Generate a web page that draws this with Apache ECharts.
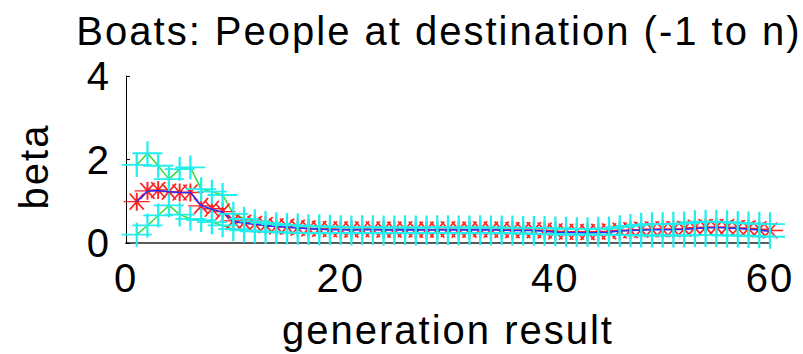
<!DOCTYPE html>
<html>
<head>
<meta charset="utf-8">
<script src="https://cdn.jsdelivr.net/npm/echarts@6/dist/echarts.min.js"></script>
<style>
  html, body { margin: 0; padding: 0; background: #ffffff; }
  #chart { width: 803px; height: 354px; }
  /* slightly looser tracking for all chart text */
  #chart svg text { letter-spacing: 2px; }
</style>
</head>
<body>
<div id="chart"></div>
<script>
// Generation index (x axis)
const generations = [
  1, 2, 3, 4, 5, 6, 7, 8, 9, 10,
  11, 12, 13, 14, 15, 16, 17, 18, 19, 20,
  21, 22, 23, 24, 25, 26, 27, 28, 29, 30,
  31, 32, 33, 34, 35, 36, 37, 38, 39, 40,
  41, 42, 43, 44, 45, 46, 47, 48, 49, 50,
  51, 52, 53, 54, 55, 56, 57, 58, 59, 60
];

// Mean beta per generation (red asterisks)
const meanBeta = [
  0.99, 1.25, 1.27, 1.23, 1.21, 1.21, 0.89, 0.82, 0.75, 0.53,
  0.49, 0.46, 0.43, 0.40, 0.39, 0.37, 0.35, 0.34, 0.33, 0.33,
  0.32, 0.33, 0.33, 0.32, 0.32, 0.33, 0.32, 0.32, 0.32, 0.33,
  0.32, 0.32, 0.33, 0.32, 0.32, 0.31, 0.31, 0.31, 0.30, 0.28,
  0.27, 0.27, 0.26, 0.27, 0.28, 0.30, 0.31, 0.32, 0.33, 0.33,
  0.33, 0.34, 0.37, 0.38, 0.38, 0.38, 0.36, 0.35, 0.33, 0.30
];

// Median beta per generation (blue line)
const medianBeta = [
  0.99, 1.24, 1.26, 1.23, 1.21, 1.21, 0.90, 0.81, 0.74, 0.52,
  0.48, 0.45, 0.42, 0.39, 0.38, 0.36, 0.34, 0.33, 0.32, 0.32,
  0.31, 0.32, 0.32, 0.31, 0.31, 0.32, 0.31, 0.31, 0.31, 0.32,
  0.31, 0.31, 0.32, 0.31, 0.31, 0.30, 0.30, 0.30, 0.28, 0.26,
  0.25, 0.25, 0.24, 0.25, 0.26, 0.29, 0.30, 0.31, 0.32, 0.32,
  0.32, 0.33, 0.35, 0.36, 0.37, 0.36, 0.35, 0.33, 0.31, 0.28
];

// Upper envelope (green line, cyan plus markers)
const upperBeta = [
  1.87, 2.15, 1.85, 1.53, 1.77, 1.81, 1.29, 1.23, 1.15, 0.70,
  0.58, 0.52, 0.48, 0.45, 0.43, 0.42, 0.40, 0.40, 0.39, 0.38,
  0.37, 0.38, 0.38, 0.37, 0.37, 0.38, 0.37, 0.37, 0.38, 0.38,
  0.37, 0.37, 0.38, 0.37, 0.37, 0.37, 0.36, 0.36, 0.36, 0.35,
  0.34, 0.33, 0.33, 0.34, 0.35, 0.38, 0.41, 0.44, 0.45, 0.45,
  0.46, 0.47, 0.50, 0.51, 0.51, 0.50, 0.48, 0.47, 0.46, 0.45
];

// Lower envelope (green line, cyan plus markers)
const lowerBeta = [
  0.20, 0.42, 0.66, 0.90, 0.68, 0.58, 0.55, 0.50, 0.42, 0.33,
  0.30, 0.28, 0.27, 0.26, 0.25, 0.24, 0.24, 0.23, 0.24, 0.24,
  0.23, 0.24, 0.24, 0.23, 0.24, 0.24, 0.23, 0.24, 0.24, 0.24,
  0.23, 0.24, 0.24, 0.23, 0.24, 0.23, 0.23, 0.22, 0.22, 0.21,
  0.20, 0.20, 0.20, 0.20, 0.20, 0.19, 0.19, 0.18, 0.18, 0.18,
  0.18, 0.18, 0.19, 0.19, 0.19, 0.18, 0.18, 0.17, 0.16, 0.15
];

const xTicks = [0, 20, 40, 60];
const yTicks = [0, 2, 4];

const FONT = '"Liberation Sans", Arial, Helvetica, sans-serif';
const TEXT_SIZE = 40;

// Marker outlines: a plus sign and an asterisk (plus + cross)
const PLUS_PATH = 'path://M0,1L2,1M1,0L1,2';
const STAR_PATH = 'path://M0,9L26,9M13,0L13,18M6,1L20,17M20,1L6,17';

const pairs = (ys) => generations.map((g, i) => [g, ys[i]]);

const lineSeries = (ys, color, width, z) => ({
  type: 'line',
  data: pairs(ys),
  showSymbol: false,
  symbol: 'none',
  lineStyle: { color: color, width: width },
  itemStyle: { color: color },
  z: z,
  silent: true,
  clip: false
});

const markerSeries = (ys, path, size, color, width, z) => ({
  type: 'scatter',
  data: pairs(ys),
  symbol: path,
  symbolSize: size,
  itemStyle: { color: 'transparent', borderColor: color, borderWidth: width, opacity: 1 },
  z: z,
  silent: true,
  clip: false
});

const chart = echarts.init(document.getElementById('chart'), null, { renderer: 'svg' });

chart.setOption({
  animation: false,
  backgroundColor: '#ffffff',
  title: {
    text: 'Boats: People at destination (-1 to n)',
    left: 439,
    top: 11,
    padding: 0,
    textAlign: 'center',
    textStyle: { fontFamily: FONT, fontSize: TEXT_SIZE, fontWeight: 'normal', color: '#000000' }
  },
  grid: { left: 126, right: 33, top: 76, bottom: 111, containLabel: false },
  xAxis: {
    type: 'value',
    min: xTicks[0],
    max: xTicks[xTicks.length - 1],
    interval: xTicks[1] - xTicks[0],
    name: 'generation result',
    nameLocation: 'middle',
    nameGap: 67,
    nameTextStyle: { fontFamily: FONT, fontSize: TEXT_SIZE, color: '#000000' },
    axisLine: { show: true, onZero: false, lineStyle: { color: '#5a5a5a', width: 2 } },
    axisTick: { show: true, inside: true, length: 4, lineStyle: { color: '#000000', width: 1 } },
    axisLabel: { fontFamily: FONT, fontSize: TEXT_SIZE, color: '#000000', margin: 15 },
    splitLine: { show: false }
  },
  yAxis: {
    type: 'value',
    min: yTicks[0],
    max: yTicks[yTicks.length - 1],
    interval: yTicks[1] - yTicks[0],
    name: 'beta',
    nameLocation: 'middle',
    nameGap: 72,
    nameTextStyle: { fontFamily: FONT, fontSize: TEXT_SIZE, color: '#000000', padding: [0, 14, 0, 0] },
    axisLine: { show: true, onZero: false, lineStyle: { color: '#000000', width: 1 } },
    axisTick: { show: true, inside: true, length: 4, lineStyle: { color: '#000000', width: 1 } },
    axisLabel: { fontFamily: FONT, fontSize: TEXT_SIZE, color: '#000000', margin: 15 },
    splitLine: { show: false }
  },
  series: [
    lineSeries(upperBeta, '#33dd33', 1.5, 2),
    lineSeries(lowerBeta, '#33dd33', 1.5, 2),
    markerSeries(meanBeta, STAR_PATH, [26, 18], '#ff2222', 1.6, 3),
    lineSeries(medianBeta, '#2233ff', 1.5, 4),
    markerSeries(upperBeta, PLUS_PATH, [30, 24], '#22eeee', 2, 5),
    markerSeries(lowerBeta, PLUS_PATH, [30, 24], '#22eeee', 2, 5)
  ]
});
</script>
</body>
</html>
